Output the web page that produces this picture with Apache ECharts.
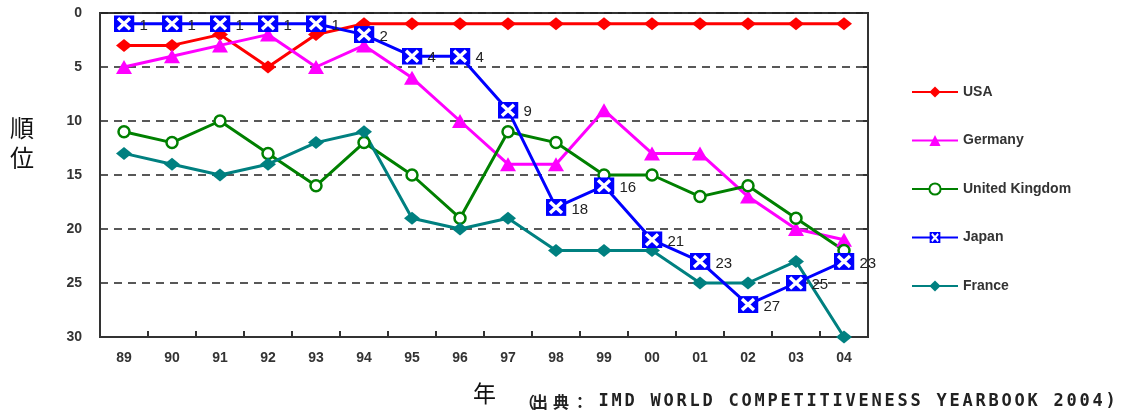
<!DOCTYPE html>
<html>
<head>
<meta charset="utf-8">
<script src="https://cdn.jsdelivr.net/npm/echarts@6/dist/echarts.min.js"></script>
<style>
  html, body { margin: 0; padding: 0; background: #fff; }
  #chart { width: 1127px; height: 412px; }
</style>
</head>
<body>
<div id="chart"></div>
<script>
// Years (two-digit) and world competitiveness ranks per country
const years = ['89','90','91','92','93','94','95','96','97','98','99','00','01','02','03','04'];
const usa     = [3, 3, 2, 5, 2, 1, 1, 1, 1, 1, 1, 1, 1, 1, 1, 1];
const germany = [5, 4, 3, 2, 5, 3, 6, 10, 14, 14, 9, 13, 13, 17, 20, 21];
const uk      = [11, 12, 10, 13, 16, 12, 15, 19, 11, 12, 15, 15, 17, 16, 19, 22];
const japan   = [1, 1, 1, 1, 1, 2, 4, 4, 9, 18, 16, 21, 23, 27, 25, 23];
const france  = [13, 14, 15, 14, 12, 11, 19, 20, 19, 22, 22, 22, 25, 25, 23, 30];
const rankTicks = [0, 5, 10, 15, 20, 25, 30];

const sourcePrefix = ['（', '出', '典', '：'];
const sourceText = 'IMD WORLD COMPETITIVENESS YEARBOOK 2004)';

// Blue square with a white cross for Japan's markers
const japanSymbol = 'image://data:image/svg+xml;utf8,' + encodeURIComponent(
  '<svg xmlns="http://www.w3.org/2000/svg" width="21" height="17" viewBox="0 0 21 17">' +
  '<rect x="0" y="0" width="21" height="17" fill="#0000ff"/>' +
  '<path d="M4.5 3 L16.5 14 M16.5 3 L4.5 14" stroke="#ffffff" stroke-width="3.4"/></svg>');

const labelFont = { fontFamily: 'Liberation Sans, Arial, sans-serif', fontWeight: 'bold', color: '#333', fontSize: 14 };

// Source line: wide-tracked monospace, one glyph per cell
const sourceGraphics = [];
const prefixCenters = [527, 540, 561, 580];
sourcePrefix.forEach((ch, i) => {
  sourceGraphics.push({
    type: 'text', x: prefixCenters[i], y: 402,
    style: { text: ch, font: 'bold 16px "Noto Sans CJK JP"', fill: '#222', align: 'center', verticalAlign: 'middle' }
  });
});
sourceText.split('').forEach((ch, i) => {
  if (ch === ' ') return;
  sourceGraphics.push({
    type: 'text', x: 603.5 + i * 13, y: 402,
    style: { text: ch, font: 'bold 17px "DejaVu Sans Mono", monospace', fill: '#222', align: 'center', verticalAlign: 'middle' }
  });
});

const chart = echarts.init(document.getElementById('chart'), null, { renderer: 'canvas' });

chart.setOption({
  animation: false,
  backgroundColor: '#ffffff',
  grid: {
    left: 100, right: 259, top: 13, bottom: 75,
    show: true, borderColor: '#333', borderWidth: 2, backgroundColor: 'transparent'
  },
  legend: {
    orient: 'vertical',
    left: 906, top: 80,
    itemWidth: 46, itemHeight: 14, itemGap: 34.5,
    textStyle: { fontFamily: 'Liberation Sans, Arial, sans-serif', fontWeight: 'bold', color: '#333', fontSize: 14, padding: [0, 0, 0, 0] },
    data: ['USA', 'Germany', 'United Kingdom', 'Japan', 'France']
  },
  xAxis: {
    type: 'category',
    data: years,
    boundaryGap: true,
    axisLine: { onZero: false, lineStyle: { color: '#333', width: 2 } },
    axisTick: { show: true, inside: true, length: 6, lineStyle: { color: '#333', width: 2 } },
    axisLabel: Object.assign({ margin: 14 }, labelFont)
  },
  yAxis: [{
    type: 'value',
    inverse: true,
    min: 0, max: 30, interval: 5,
    axisLine: { show: true, lineStyle: { color: '#333', width: 2 } },
    axisTick: { show: false },
    axisLabel: Object.assign({ margin: 18, formatter: v => rankTicks.includes(v) ? String(v) : '' }, labelFont),
    splitLine: { show: true, lineStyle: { color: '#222', type: [8, 6], width: 1.5 } }
  }, {
    type: 'value',
    inverse: true,
    min: 0, max: 30, interval: 5,
    position: 'right',
    axisLine: { show: true, lineStyle: { color: '#333', width: 2 } },
    axisTick: { show: true, inside: true, length: 5, lineStyle: { color: '#333', width: 2 } },
    axisLabel: { show: false },
    splitLine: { show: false }
  }],
  series: [{
    name: 'USA', type: 'line', data: usa,
    symbol: 'diamond', symbolSize: [16, 13],
    lineStyle: { color: '#ff0000', width: 3 },
    itemStyle: { color: '#ff0000' }
  }, {
    name: 'Germany', type: 'line', data: germany,
    symbol: 'triangle', symbolSize: [16, 14],
    lineStyle: { color: '#ff00ff', width: 3 },
    itemStyle: { color: '#ff00ff' }
  }, {
    name: 'United Kingdom', type: 'line', data: uk,
    symbol: 'circle', symbolSize: 11,
    lineStyle: { color: '#008000', width: 3 },
    itemStyle: { color: '#ffffff', borderColor: '#008000', borderWidth: 2.5 }
  }, {
    name: 'France', type: 'line', data: france,
    symbol: 'diamond', symbolSize: [16, 13],
    lineStyle: { color: '#008080', width: 3 },
    itemStyle: { color: '#008080' }
  }, {
    name: 'Japan', type: 'line', data: japan,
    symbol: japanSymbol, symbolSize: [21, 17],
    lineStyle: { color: '#0000ff', width: 3 },
    itemStyle: { color: '#0000ff' },
    z: 5,
    label: Object.assign({ show: true, position: 'right', distance: 5, offset: [0, 2] }, labelFont, { fontWeight: 'normal', color: '#222', fontSize: 15 })
  }],
  graphic: [{
    type: 'text', left: 10, top: 113,
    style: { text: '順\n位', font: '24px "Noto Sans CJK JP"', fill: '#111', lineHeight: 30 }
  }, {
    type: 'text', left: 473, top: 382,
    style: { text: '年', font: '23px "Noto Sans CJK JP"', fill: '#111' }
  }].concat(sourceGraphics)
});
</script>
</body>
</html>
